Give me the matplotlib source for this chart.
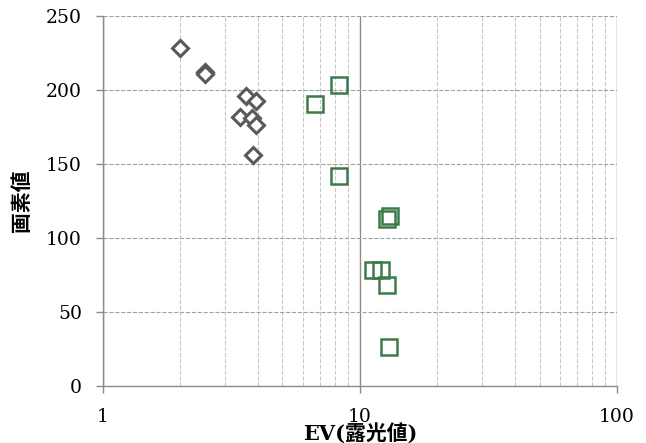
import matplotlib
matplotlib.use("Agg")
import matplotlib.pyplot as plt
from matplotlib.ticker import LogLocator, FixedLocator, NullFormatter

# grey diamonds
diamond_ev = [2.0, 2.5, 2.5, 3.62, 3.94, 3.41, 3.82, 3.94, 3.84]
diamond_px = [228, 212, 210.5, 196, 192.5, 182, 181, 176, 156]

# green squares
square_ev = [8.3, 6.7, 8.3, 13.1, 12.8, 11.3, 12.1, 12.8, 13.0]
square_px = [203, 190.5, 142, 115, 113, 78.5, 78.5, 68, 26.5]

y_ticks = [0, 50, 100, 150, 200, 250]
x_ticks = [1, 10, 100]
x_ticklabels = ["1", "10", "100"]

serif = ["DejaVu Serif"]
cjk = ["DejaVu Serif", "Noto Sans CJK JP"]

fig = plt.figure(figsize=(6.46, 4.43), dpi=100)
ax = fig.add_axes([0.159, 0.129, 0.796, 0.835])

ax.set_xscale("log")
ax.set_xlim(1, 100)
ax.set_ylim(0, 250)

ax.plot(diamond_ev, diamond_px, linestyle="none", marker="D", markersize=8,
        markerfacecolor="white", markeredgecolor="#595959", markeredgewidth=2.2,
        zorder=3)
ax.plot(square_ev, square_px, linestyle="none", marker="s", markersize=11.5,
        markerfacecolor="none", markeredgecolor="#3B7A4B", markeredgewidth=1.8,
        zorder=3)

ax.xaxis.set_major_locator(FixedLocator(x_ticks))
ax.xaxis.set_minor_locator(LogLocator(base=10, subs=range(2, 10)))
ax.xaxis.set_minor_formatter(NullFormatter())
ax.set_xticklabels(x_ticklabels)
ax.set_yticks(y_ticks)

ax.grid(True, which="major", axis="x", color="#8c8c8c", linestyle="-", linewidth=1)
ax.grid(True, which="minor", axis="x", color="#c8c8c8", linestyle="--", linewidth=0.8)
ax.grid(True, which="major", axis="y", color="#a0a0a0", linestyle="--", linewidth=0.8)
ax.set_axisbelow(True)

for s in ["top", "right"]:
    ax.spines[s].set_visible(False)
for s in ["left", "bottom"]:
    ax.spines[s].set_color("#8c8c8c")
    ax.spines[s].set_linewidth(1)

ax.tick_params(axis="both", which="major", color="#8c8c8c", length=5, width=1,
               labelsize=13.5, labelcolor="black")
ax.tick_params(axis="x", which="major", pad=11)
ax.tick_params(axis="y", which="major", pad=10)
ax.tick_params(axis="x", which="minor", length=0)
for lab in ax.get_xticklabels() + ax.get_yticklabels():
    lab.set_family(serif)

ax.set_xlabel("EV(露光値)", family=cjk, fontweight="bold", fontsize=15)
ax.set_ylabel("画素値", family=cjk, fontweight="bold", fontsize=15)
ax.xaxis.set_label_coords(0.5, -0.1)
ax.yaxis.set_label_coords(-0.138, 0.5)

fig.savefig("out.png", dpi=100)
